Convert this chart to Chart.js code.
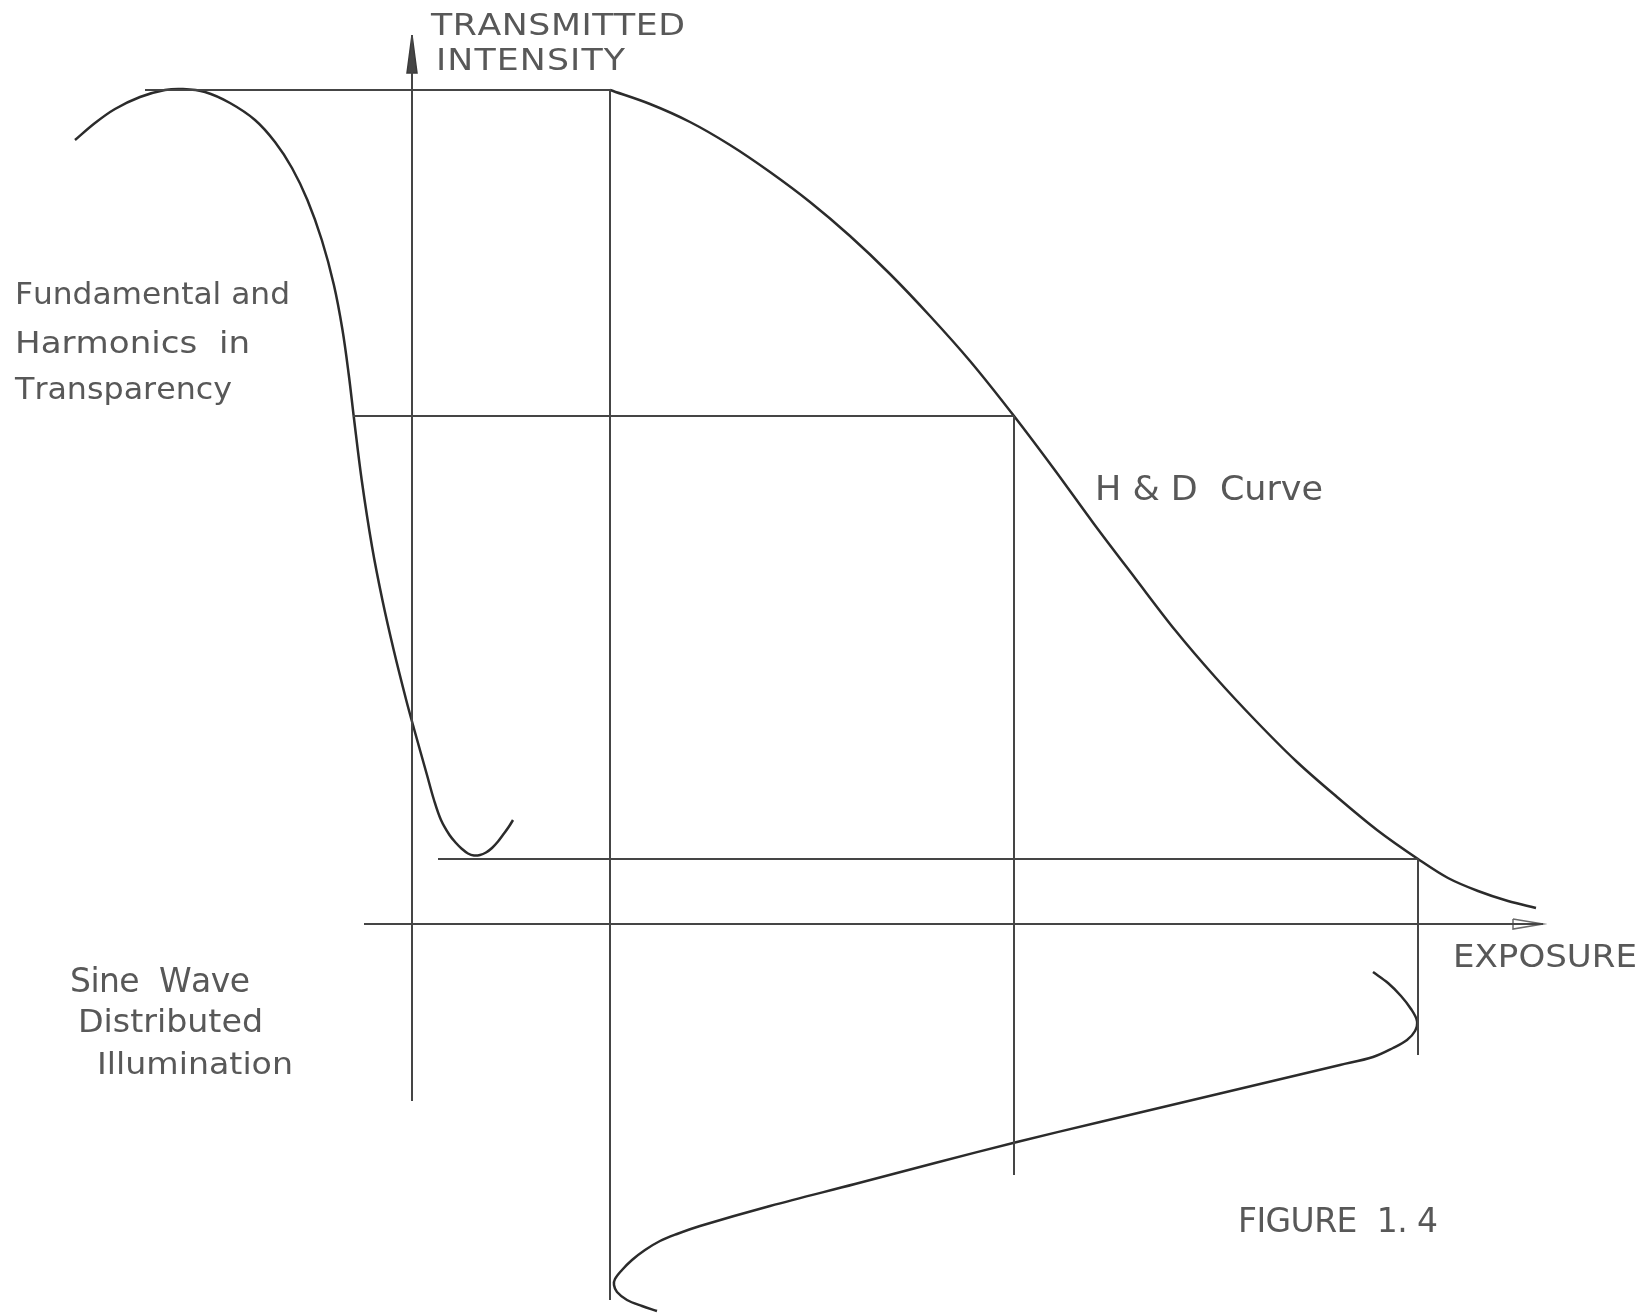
<!DOCTYPE html>
<html>
<head>
<meta charset="utf-8">
<title>Figure 1.4</title>
<script src="https://cdn.jsdelivr.net/npm/chart.js@4.4.1/dist/chart.umd.min.js"></script>
<style>
  html, body { margin: 0; padding: 0; background: #ffffff; }
  #wrap { width: 1647px; height: 1313px; position: relative; }
</style>
</head>
<body>
<div id="wrap"><canvas id="fig"></canvas></div>
<script>
// values; origin where the exposure and intensity axes cross
// [exposure, transmitted intensity]
const hdCurve = [
  [198, 834], [238, 820], [278, 802], [318, 779], [358, 752], [398, 722],
  [438, 688], [478, 650], [518, 608], [558, 563], [602, 508], [642, 455],
  [682, 400], [723, 346], [763, 294], [804, 246], [844, 203], [884, 163],
  [925, 127], [965, 94], [1006, 65], [1036, 46], [1066, 33], [1096, 23],
  [1124, 16]
];

// transparency output (left quadrant)
const transparency = [
  [-337, 784], [-317, 801], [-297, 815], [-272, 827], [-247, 834], [-229, 835],
  [-207, 832], [-182, 821], [-157, 804], [-137, 782], [-120, 756], [-104.6, 724],
  [-90.2, 684], [-78.1, 639], [-69.5, 594], [-63.2, 549], [-58.2, 507], [-50.3, 444],
  [-39.9, 377], [-29.6, 324], [-18.3, 274], [-5.8, 224], [1.8, 196], [15, 149],
  [22, 124], [29, 104], [37.5, 89], [44, 81], [50, 75], [56, 70.5],
  [62, 68.5], [68, 69], [74, 71.5], [80, 76], [86, 82.5], [92, 90.5],
  [97, 97.5], [101, 104]
];

// sine wave illumination (below the exposure axis)
const sineIllum = [
  [961, -48], [976, -59], [989, -72], [999, -85], [1005, -97], [1003, -107],
  [995, -116], [981, -124], [961, -133], [928, -141], [848, -160], [768, -179],
  [688, -198], [605, -218], [523, -239], [443, -260], [358, -282], [288, -302],
  [265, -310], [248, -317], [233, -326], [220, -336], [210, -346], [203, -355],
  [202, -361], [205, -368], [215, -376], [230, -382], [245, -387]
];

// projection lines
const guideLines = [
  [[-267, 834], [198, 834]],
  [[198, 834], [198, -376]],
  [[-59, 508], [602, 508]],
  [[602, 508], [602, -251]],
  [[26, 65], [1006, 65]],
  [[1006, 65], [1006, -131]]
];

const axisExposure = [[-48, 0], [1131, 0]];
const axisIntensity = [[0, -177], [0, 889]];
const arrowUp = [[0, 889], [-5, 851], [5, 851], [0, 889]];
const arrowRight = [[1101, 5], [1131, 0], [1101, -5], [1101, 5]];

const labelTexts = [
  'TRANSMITTED', 'INTENSITY',
  'Fundamental and', 'Harmonics  in', 'Transparency',
  'H & D  Curve', 'EXPOSURE',
  'Sine  Wave', 'Distributed', 'Illumination',
  'FIGURE  1. 4'
];

// where each label sits (left, baseline) and how wide it is drawn
const labelPlace = [
  { x: 19, y: 889, w: 254, size: 31 },
  { x: 24, y: 854, w: 189, size: 31 },
  { x: -397, y: 620, w: 275, size: 31 },
  { x: -397, y: 571, w: 235, size: 31 },
  { x: -397, y: 525, w: 217, size: 31 },
  { x: 683, y: 424, w: 228, size: 33 },
  { x: 1041, y: -43, w: 184, size: 32 },
  { x: -342, y: -68, w: 180, size: 33 },
  { x: -334, y: -108, w: 185, size: 32 },
  { x: -315, y: -150, w: 196, size: 30 },
  { x: 826, y: -308, w: 200, size: 33 }
];

const toPts = arr => arr.map(p => ({ x: p[0], y: p[1] }));

function lineSet(arr, opts) {
  return Object.assign({
    data: toPts(arr),
    showLine: true,
    pointRadius: 0,
    borderColor: '#3b3b3b',
    borderWidth: 2,
    tension: 0,
    fill: false
  }, opts || {});
}

const curveStyle = { borderColor: '#2b2b2b', borderWidth: 2.5 };

const datasets = [];
guideLines.forEach(seg => datasets.push(lineSet(seg, { borderColor: '#454545' })));
datasets.push(lineSet(axisExposure, { borderColor: '#454545' }));
datasets.push(lineSet(axisIntensity, { borderColor: '#454545' }));
datasets.push(lineSet(arrowUp, { fill: 'shape', backgroundColor: '#454545', borderWidth: 1.5 }));
datasets.push(lineSet(arrowRight, { borderColor: '#6a6a6a', borderWidth: 1.5 }));
datasets.push(lineSet(hdCurve, Object.assign({ cubicInterpolationMode: 'monotone' }, curveStyle)));
datasets.push(lineSet(transparency, Object.assign({ tension: 0.35 }, curveStyle)));
datasets.push(lineSet(sineIllum, Object.assign({ tension: 0.35 }, curveStyle)));

// hand lettering: letters widened a little and spread to the label width
const lettering = {
  id: 'lettering',
  afterDatasetsDraw(chart) {
    const ctx = chart.ctx;
    const xs = chart.scales.x, ys = chart.scales.y;
    ctx.save();
    ctx.fillStyle = '#585858';
    ctx.textBaseline = 'alphabetic';
    ctx.textAlign = 'left';
    labelTexts.forEach((txt, i) => {
      const p = labelPlace[i];
      ctx.font = p.size + 'px "DejaVu Sans", sans-serif';
      const chars = Array.from(txt);
      const widths = chars.map(c => ctx.measureText(c).width);
      const natural = widths.reduce((a, b) => a + b, 0);
      const sx = Math.min(1.12, Math.max(1, p.w / natural));
      const gap = chars.length > 1 ? (p.w - natural * sx) / (chars.length - 1) : 0;
      let px = xs.getPixelForValue(p.x);
      const py = ys.getPixelForValue(p.y);
      chars.forEach((c, k) => {
        ctx.save();
        ctx.translate(px, py);
        ctx.scale(sx, 1);
        ctx.fillText(c, 0, 0);
        ctx.restore();
        px += widths[k] * sx + gap;
      });
    });
    ctx.restore();
  }
};

new Chart(document.getElementById('fig'), {
  type: 'scatter',
  data: { datasets: datasets },
  plugins: [lettering],
  options: {
    responsive: true,
    maintainAspectRatio: false,
    animation: false,
    devicePixelRatio: 1,
    layout: { padding: 0 },
    plugins: {
      legend: { display: false },
      tooltip: { enabled: false }
    },
    scales: {
      x: { type: 'linear', min: -412, max: 1235, display: false },
      y: { type: 'linear', min: -389, max: 924, display: false }
    }
  }
});
</script>
</body>
</html>
